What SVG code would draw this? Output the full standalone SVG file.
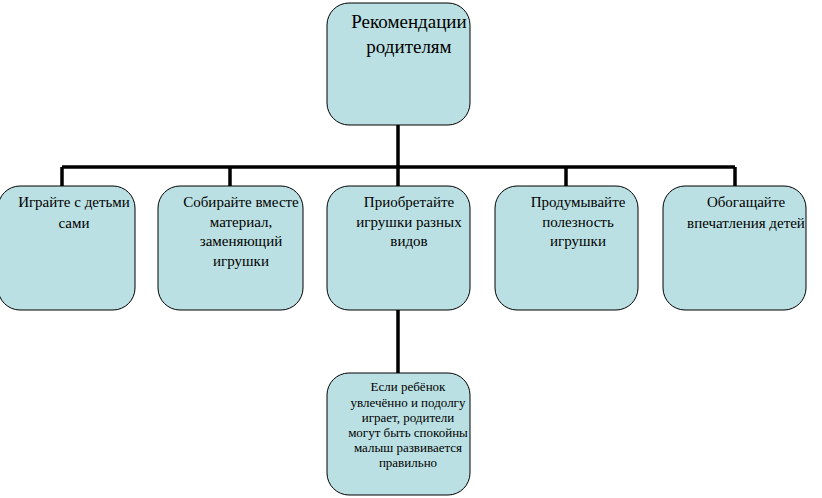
<svg xmlns="http://www.w3.org/2000/svg" width="822" height="498" viewBox="0 0 822 498">
<style>
.box{fill:#BBE0E3;stroke:#000;stroke-width:1}
text{font-family:'Liberation Serif','DejaVu Serif',serif;font-size:15px;fill:#000;text-anchor:middle}
.h{font-size:19px}
.s{font-size:13px}
.c{stroke:#000;stroke-width:3.5;fill:none}
</style>
<rect width="822" height="498" fill="#fff"/>
<g id="connectors">
<path class="c" d="M398,125V167M62,167H735M62,167V186M230,167V186M398,167V186M566,167V186M735,167V186M398,310V373"/>
</g>
<g id="root">
<rect class="box" x="327" y="3" width="143" height="122" rx="22"/>
<text class="h" x="409" y="28">Рекомендации</text>
<text class="h" x="409" y="53">родителям</text>
</g>
<g id="n1">
<rect class="box" x="-2" y="186" width="137" height="124" rx="22"/>
<text x="74" y="207">Играйте с детьми</text>
<text x="74" y="228">сами</text>
</g>
<g id="n2">
<rect class="box" x="158" y="186" width="145" height="124" rx="22"/>
<text x="241" y="207">Собирайте вместе</text>
<text x="241" y="227">материал,</text>
<text x="241" y="246">заменяющий</text>
<text x="241" y="266">игрушки</text>
</g>
<g id="n3">
<rect class="box" x="327" y="186" width="143" height="124" rx="22"/>
<text x="409" y="207">Приобретайте</text>
<text x="409" y="227">игрушки разных</text>
<text x="409" y="246">видов</text>
</g>
<g id="n4">
<rect class="box" x="495" y="186" width="143" height="124" rx="22"/>
<text x="578" y="207">Продумывайте</text>
<text x="578" y="227">полезность</text>
<text x="578" y="246">игрушки</text>
</g>
<g id="n5">
<rect class="box" x="663" y="186" width="143" height="124" rx="22"/>
<text x="746" y="207">Обогащайте</text>
<text x="746" y="228">впечатления детей</text>
</g>
<g id="n6">
<rect class="box" x="327" y="373" width="143" height="122" rx="22"/>
<text class="s" x="408" y="391">Если ребёнок</text>
<text class="s" x="408" y="407">увлечённо и подолгу</text>
<text class="s" x="408" y="422">играет, родители</text>
<text class="s" x="408" y="437">могут быть спокойны</text>
<text class="s" x="408" y="452">малыш развивается</text>
<text class="s" x="408" y="467">правильно</text>
</g>
</svg>
